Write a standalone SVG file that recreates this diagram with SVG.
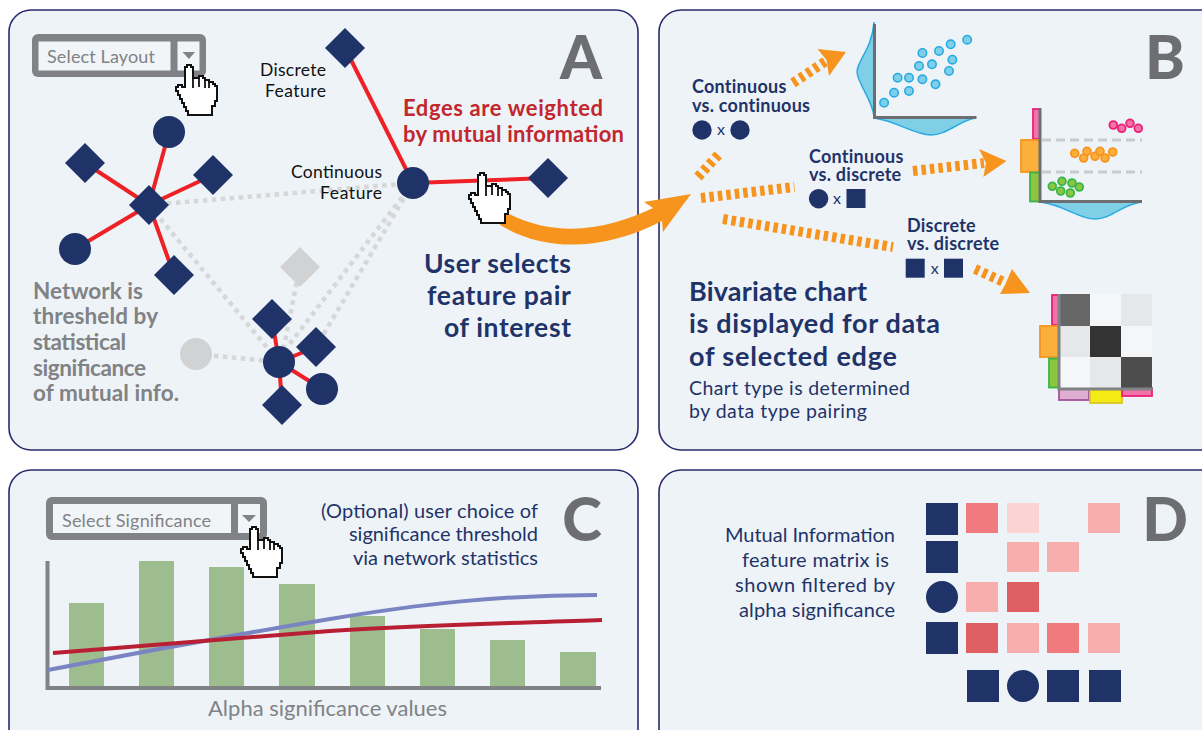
<svg xmlns="http://www.w3.org/2000/svg" width="1202" height="730" viewBox="0 0 1202 730">
<style>
text{font-family:"Lato","Open Sans","Liberation Sans",sans-serif}
.panel{fill:#eef3f7;stroke:#2b2a6e;stroke-width:1.6}
.big{font-size:60px;font-weight:900;fill:#6d6e71;text-anchor:middle}
.navy{fill:#1f3368}.nb{fill:#1f3368;font-weight:700}
.lab{font-size:17.500px;fill:#111}
.r{stroke:#ee2226;stroke-width:4;fill:none}
.g{stroke:#d6d7d8;stroke-width:4.500;stroke-dasharray:4.500 4.500;fill:none}
.gn{fill:#d1d2d4}
.o{stroke:#f7941e;stroke-width:10;stroke-dasharray:4.500 4;fill:none}
.of{fill:#f7941e}
.ax{stroke:#6d6e71;stroke-width:3;fill:none}
.den{fill:#7fd0e6;stroke:#29abe2;stroke-width:1.5}
.bl{fill:#7fcfe8;stroke:#29abe2;stroke-width:1.6}
.pk{fill:#f173a8;stroke:#ec1f79;stroke-width:1.8}
.og{fill:#fbb03b;stroke:#f7941e;stroke-width:1.8}
.gr{fill:#8cc63f;stroke:#39b54a;stroke-width:1.8}
.dd{stroke:#c9cbcc;stroke-width:3;stroke-dasharray:9 5;fill:none}
.hand{fill:#fff;stroke:#111;stroke-width:2;stroke-linejoin:miter}
.hl{fill:none;stroke:#111;stroke-width:1.8}
.sel{fill:#808285}
.in{fill:#f1f5f8}
.tri{fill:#808285}
.bar{fill:#9dbd8f}
.pair{font-size:18px;font-weight:700;fill:#1f3368;letter-spacing:.25px}
</style>
<defs>
<path id="dia" d="M0-20 20 0 0 20-20 0Z"/>
<g id="hand">
<path class="hand" d="M9 2H11V0H15V2H17V13H23V11H27V13H29V15H33V17H37V19H39V21H41V36H39V41H36V50H12V46H10V42H8V38H6V34H4V30H2V26H0V22H2V20H6V22H9Z"/>
<path class="hl" d="M17 13V23M23 13V22M29 15V23M33 17V23"/>
</g>
</defs>
<g id="panel-a"><rect class="panel" x="9" y="10" width="629" height="440" rx="22"/></g>
<g id="panel-b"><rect class="panel" x="659" y="10" width="570" height="440" rx="22"/></g>
<g id="panel-c"><rect class="panel" x="9" y="470" width="629" height="290" rx="22"/></g>
<g id="panel-d"><rect class="panel" x="659" y="470" width="570" height="290" rx="22"/></g>
<text class="big" x="581" y="79">A</text>
<text class="big" x="1165" y="79">B</text>
<text class="big" x="582" y="541">C</text>
<text class="big" x="1165" y="541">D</text>

<g id="connectors">
<path class="g" d="M149 205 413 183M149 205 279 362M413 183 285 350M413 183 316 347M300 265 281 362M196 354 279 362"/>
<path class="r" d="M149 205 85 163M149 205 169 132M149 205 213 175M149 205 75 249M149 205 174 275M413 183 345 48M413 183 548 178M279 362 272 319M279 362 316 347M279 362 282 405M279 362 322 389"/>
<path class="o" d="M793 83 826 61M698 177 720 153M701 198 794.500 187M913 171 984 163M723 219 893 247M975 269 1006 283"/>
</g>
<path class="of" d="M846 52 817.600 49 826.500 60 829 76ZM1006.500 161 979 149 986 163 983.400 177Z"/>
<path class="of" d="M1030 293 1012 269 1005 285 1000 294Z"/>
<path class="of" d="M500 225 507 213C560 240 610 228 653 208L644 202 691 194 663 232 662 221C610 248 550 255 500 225Z"/>

<g id="select-layout">
<rect class="sel" x="32" y="34" width="174" height="43" rx="6"/>
<rect class="in" x="38.500" y="41.500" width="132" height="29"/>
<rect class="in" x="177.500" y="41.500" width="22" height="29"/>
<path class="tri" d="M182.500 52H195L189 59Z"/>
<text x="47" y="63" font-size="18" fill="#808285" textLength="108">Select Layout</text>
</g>
<use href="#hand" x="176" y="65"/>

<g id="n1"><use href="#dia" class="navy" x="85" y="163"/></g>
<g id="n2"><use href="#dia" class="navy" x="213" y="175"/></g>
<g id="n3"><use href="#dia" class="navy" x="149" y="205"/></g>
<g id="n4"><circle class="navy" cx="169" cy="132" r="16"/></g>
<g id="n5"><circle class="navy" cx="75" cy="249" r="16"/></g>
<g id="n6"><use href="#dia" class="navy" x="174" y="275"/></g>
<g id="n7"><use href="#dia" class="navy" x="345" y="48"/></g>
<g id="n8"><circle class="navy" cx="413" cy="183" r="16"/></g>
<g id="n9"><use href="#dia" class="navy" x="548" y="178"/></g>
<g id="n10"><use href="#dia" class="gn" x="300" y="267"/></g>
<g id="n11"><circle class="gn" cx="196" cy="354" r="16"/></g>
<g id="n12"><circle class="navy" cx="279" cy="362" r="16"/></g>
<g id="n13"><use href="#dia" class="navy" x="272" y="319"/></g>
<g id="n14"><use href="#dia" class="navy" x="316" y="347"/></g>
<g id="n15"><use href="#dia" class="navy" x="282" y="405"/></g>
<g id="n16"><circle class="navy" cx="322" cy="389" r="16"/></g>
<use href="#hand" x="469" y="173"/>

<g class="lab">
<text x="260" y="76" textLength="66">Discrete</text><text x="265" y="97" textLength="61">Feature</text>
<text x="291" y="178" textLength="91">Continuous</text><text x="320" y="199" textLength="62">Feature</text>
</g>
<g font-size="22" font-weight="700" fill="#c1272d">
<text x="403" y="116" textLength="200">Edges are weighted</text><text x="403" y="142" textLength="221">by mutual information</text>
</g>
<g font-size="26.500" class="nb">
<text x="424" y="273" textLength="147">User selects</text>
<text x="427" y="305" textLength="144">feature pair</text>
<text x="444" y="337" textLength="127">of interest</text>
</g>
<g font-size="22.500" font-weight="700" fill="#808285">
<text x="33" y="299" textLength="110">Network is</text><text x="33" y="324" textLength="125">thresheld by</text><text x="33" y="350" textLength="93">statistical</text><text x="33" y="376" textLength="113">significance</text><text x="33" y="401" textLength="146">of mutual info.</text>
</g>

<text class="pair"><tspan x="692" y="93">Continuous</tspan><tspan x="692" y="112">vs. continuous</tspan></text>
<text class="pair"><tspan x="809" y="163">Continuous</tspan><tspan x="809" y="181">vs. discrete</tspan></text>
<text class="pair"><tspan x="907" y="232">Discrete</tspan><tspan x="907" y="250">vs. discrete</tspan></text>
<g class="navy">
<circle cx="702" cy="130" r="9.700"/><circle cx="740" cy="130" r="9.700"/>
<circle cx="818.600" cy="198.700" r="9.700"/><rect x="846.500" y="189" width="19" height="19"/>
<rect x="905.700" y="258.700" width="19" height="19"/><rect x="944" y="258.700" width="19" height="19"/>
</g>
<g font-size="16" fill="#1f3368" text-anchor="middle">
<text x="721" y="135">x</text><text x="837" y="204">x</text><text x="934.700" y="274">x</text>
</g>
<g class="nb" font-size="27">
<text x="689" y="301" textLength="178">Bivariate chart</text>
<text x="689" y="333" textLength="251">is displayed for data</text>
<text x="689" y="366" textLength="208">of selected edge</text>
</g>
<text font-size="19.500" x="689" y="395" fill="#1f3368" textLength="221">Chart type is determined</text>
<text font-size="19.500" x="689" y="418" fill="#1f3368" textLength="178">by data type pairing</text>

<g id="chart-scatter">
<path class="den" d="M874 22C872 50 857 60 857 72 858 85 873 100 874 117ZM874 118C897 121 914 135 931 135 947 135 960 120 976 118Z"/>
<path class="ax" d="M874.500 24V117.500H976.500"/>
<g class="bl"><circle cx="884.100" cy="102.700" r="4.200"/><circle cx="894.100" cy="92.700" r="4.200"/><circle cx="909" cy="91" r="4.200"/><circle cx="897.600" cy="77.700" r="4.200"/><circle cx="909" cy="77.700" r="4.200"/><circle cx="922.400" cy="79.300" r="4.200"/><circle cx="935.500" cy="84.300" r="4.200"/><circle cx="949" cy="71" r="4.200"/><circle cx="952.400" cy="59.700" r="4.200"/><circle cx="939" cy="51" r="4.200"/><circle cx="950.700" cy="44.300" r="4.200"/><circle cx="967.200" cy="39.700" r="4.200"/><circle cx="922.400" cy="53" r="4.200"/><circle cx="932" cy="64.300" r="4.200"/><circle cx="919" cy="66" r="4.200"/></g>
</g>
<g id="chart-strip">
<path class="den" d="M1040 202C1065 205 1078 219 1095 219 1112 219 1122 204 1142 202Z"/>
<rect class="pk" x="1033" y="109" width="7" height="30"/>
<rect class="og" x="1021" y="140" width="19" height="32"/>
<rect class="gr" x="1030" y="172.500" width="10" height="29"/>
<path class="dd" d="M1042 140H1142M1042 172H1142"/>
<path class="ax" d="M1040 108V201.500H1142"/>
<g class="pk"><circle cx="1113.300" cy="125" r="3.900"/><circle cx="1121.700" cy="128.300" r="3.900"/><circle cx="1130" cy="123.300" r="3.900"/><circle cx="1138.300" cy="128.300" r="3.900"/></g>
<g class="og"><circle cx="1074.700" cy="153.300" r="3.900"/><circle cx="1083.700" cy="158" r="3.900"/><circle cx="1087" cy="151.300" r="3.900"/><circle cx="1095" cy="156.300" r="3.900"/><circle cx="1100" cy="151.300" r="3.900"/><circle cx="1105" cy="158" r="3.900"/><circle cx="1112.700" cy="152" r="3.900"/></g>
<g class="gr"><circle cx="1052.300" cy="186.300" r="3.900"/><circle cx="1060.700" cy="191" r="3.900"/><circle cx="1062" cy="181.300" r="3.900"/><circle cx="1070.300" cy="193" r="3.900"/><circle cx="1072" cy="183" r="3.900"/><circle cx="1079.300" cy="187" r="3.900"/></g>
</g>
<g id="chart-heat">
<rect class="pk" x="1052" y="295" width="7" height="30"/>
<rect class="og" x="1040" y="326" width="19" height="31"/>
<rect class="gr" x="1049" y="358.500" width="10" height="29"/>
<rect x="1059" y="388" width="30" height="12" fill="#dfaed3" stroke="#a3509d" stroke-width="1.800"/>
<rect x="1090" y="388" width="32" height="15" fill="#f5eb14" stroke="#d8c62a" stroke-width="1.800"/>
<rect class="pk" x="1122" y="388" width="30" height="8"/>
<rect x="1058" y="294" width="32" height="32" fill="#666"/><rect x="1090" y="294" width="31" height="32" fill="#f5f6f8"/><rect x="1121" y="294" width="31" height="32" fill="#e6e7e8"/>
<rect x="1058" y="326" width="32" height="31" fill="#e6e7e8"/><rect x="1090" y="326" width="31" height="31" fill="#333"/><rect x="1121" y="326" width="31" height="31" fill="#f5f6f8"/>
<rect x="1058" y="357" width="32" height="31" fill="#f5f6f8"/><rect x="1090" y="357" width="31" height="31" fill="#e6e7e8"/><rect x="1121" y="357" width="31" height="31" fill="#4d4d4d"/>
<path d="M1059 294V389H1153" fill="none" stroke="#808285" stroke-width="3"/>
</g>

<g id="select-significance">
<rect class="sel" x="46" y="497" width="221" height="43" rx="6"/>
<rect class="in" x="53" y="504" width="178" height="29"/>
<rect class="in" x="238" y="504" width="22" height="29"/>
<path class="tri" d="M242 515H256L249 522Z"/>
<text x="62" y="527" font-size="18" fill="#808285" textLength="149">Select Significance</text>
</g>
<g id="chart-c">
<rect class="bar" x="69" y="603" width="35" height="84"/>
<rect class="bar" x="139" y="561" width="35" height="126"/>
<rect class="bar" x="209" y="567" width="35" height="120"/>
<rect class="bar" x="279" y="584" width="36" height="103"/>
<rect class="bar" x="350" y="616" width="35" height="71"/>
<rect class="bar" x="420" y="629" width="35" height="58"/>
<rect class="bar" x="490" y="640" width="35" height="47"/>
<rect class="bar" x="560" y="652" width="36" height="35"/>
<path d="M47.500 561V688H601" fill="none" stroke="#808285" stroke-width="4"/>
<path d="M48 670C130 654 240 634 330 619 420 604 500 595 597 595" fill="none" stroke="#7b84c3" stroke-width="4"/>
<path d="M53 653C150 645 250 637 330 631 420 625 520 623 602 620" fill="none" stroke="#b81f33" stroke-width="4"/>
</g>
<use href="#hand" x="241" y="527"/>
<g font-size="20" fill="#1f3368">
<text x="321" y="518" textLength="217">(Optional) user choice of</text>
<text x="349" y="541" textLength="189">significance threshold</text>
<text x="353" y="565" textLength="185">via network statistics</text>
</g>
<text x="208" y="716" font-size="22" fill="#808285" textLength="239">Alpha significance values</text>

<g font-size="20" fill="#1f3368">
<text x="725" y="542" textLength="170">Mutual Information</text>
<text x="742" y="567" textLength="147">feature matrix is</text>
<text x="735" y="592" textLength="160">shown filtered by</text>
<text x="739" y="617" textLength="156">alpha significance</text>
</g>
<g id="matrix">
<g class="navy">
<rect x="926" y="503" width="32" height="32"/><rect x="926" y="541" width="32" height="32"/><circle cx="942" cy="597" r="16"/><rect x="926" y="622" width="32" height="32"/>
<rect x="967" y="670" width="32" height="32"/><circle cx="1023" cy="686" r="16"/><rect x="1047" y="670" width="32" height="32"/><rect x="1089" y="670" width="32" height="32"/>
</g>
<rect x="966" y="503" width="32" height="30" fill="#f07b7e"/><rect x="1007" y="503" width="32" height="30" fill="#fbd3d3"/><rect x="1088" y="503" width="32" height="30" fill="#f8aeac"/>
<rect x="1007" y="542" width="32" height="30" fill="#f8aeac"/><rect x="1047" y="542" width="32" height="30" fill="#f8aeac"/>
<rect x="966" y="582" width="32" height="30" fill="#f8aeac"/><rect x="1007" y="582" width="32" height="30" fill="#e05f62"/>
<rect x="966" y="623" width="32" height="30" fill="#e05f62"/><rect x="1007" y="623" width="32" height="30" fill="#f8aeac"/><rect x="1047" y="623" width="32" height="30" fill="#f07b7e"/><rect x="1088" y="623" width="32" height="30" fill="#f8aeac"/>
</g>
</svg>
